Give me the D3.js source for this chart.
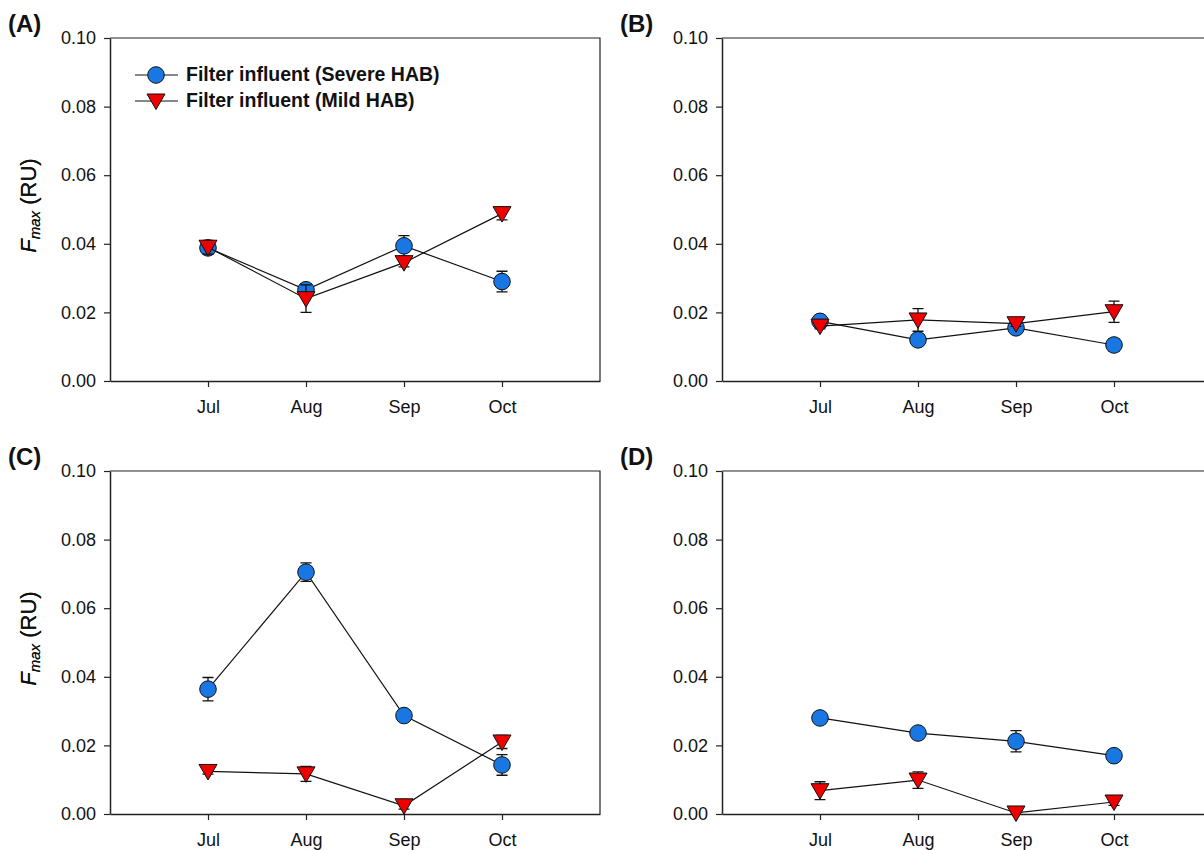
<!DOCTYPE html>
<html>
<head>
<meta charset="utf-8">
<script src="https://cdn.jsdelivr.net/npm/d3@7.9.0/dist/d3.min.js"></script>
<style>
  body { margin: 0; background: #fff; }
  svg { display: block; font-family: Arial, "Liberation Sans", sans-serif; }
</style>
</head>
<body>
<svg id="chart" width="1204" height="850"></svg>
<script>
// Categories and ticks
const months = ["Jul", "Aug", "Sep", "Oct"];
const yTicks = [0, 0.02, 0.04, 0.06, 0.08, 0.10];
const seriesNames = ["Filter influent (Severe HAB)", "Filter influent (Mild HAB)"];
const panelLabels = ["(A)", "(B)", "(C)", "(D)"];

// Panel A
const severeA = [0.0388, 0.0266, 0.0394, 0.0290];
const severeErrA = [0.0012, 0.0018, 0.0030, 0.0030];
const mildA = [0.0390, 0.0240, 0.0345, 0.0488];
const mildErrA = [0.0020, 0.0040, 0.0012, 0.0018];

// Panel B
const severeB = [0.0174, 0.0120, 0.0155, 0.0105];
const severeErrB = [0.0008, 0.0008, 0.0010, 0.0018];
const mildB = [0.0160, 0.0178, 0.0167, 0.0202];
const mildErrB = [0.0008, 0.0033, 0.0008, 0.0031];

// Panel C
const severeC = [0.0364, 0.0705, 0.0287, 0.0143];
const severeErrC = [0.0034, 0.0027, 0.0012, 0.0030];
const mildC = [0.0124, 0.0117, 0.0024, 0.0210];
const mildErrC = [0.0008, 0.0022, 0.0010, 0.0019];

// Panel D
const severeD = [0.0280, 0.0236, 0.0212, 0.0170];
const severeErrD = [0.0012, 0.0012, 0.0031, 0.0010];
const mildD = [0.0068, 0.0099, 0.0003, 0.0035];
const mildErrD = [0.0026, 0.0024, 0.0004, 0.0010];

const panels = [
    { label: panelLabels[0], severe: severeA, severeErr: severeErrA, mild: mildA, mildErr: mildErrA, left: 110, top: 38, legend: true },
    { label: panelLabels[1], severe: severeB, severeErr: severeErrB, mild: mildB, mildErr: mildErrB, left: 722, top: 38 },
    { label: panelLabels[2], severe: severeC, severeErr: severeErrC, mild: mildC, mildErr: mildErrC, left: 110, top: 471 },
    { label: panelLabels[3], severe: severeD, severeErr: severeErrD, mild: mildD, mildErr: mildErrD, left: 722, top: 471 }
];

const width = 490;
const height = 343;
const blue = "#1877E3";
const red = "#EE0000";
const svg = d3.select("#chart");

// down-pointing triangle, data point a bit above the box centre
const triPath = "M-9,-7L9,-7L0,8.5Z";

function drawMarker(g, kind, x, y) {
    if (kind === "severe") {
        g.append("circle")
            .attr("cx", x).attr("cy", y).attr("r", 8.3)
            .attr("fill", blue).attr("stroke", "#111").attr("stroke-width", 1);
    } else {
        g.append("path")
            .attr("d", triPath)
            .attr("transform", `translate(${x},${y})`)
            .attr("fill", red).attr("stroke", "#111").attr("stroke-width", 1);
    }
}

panels.forEach(p => {
    const g = svg.append("g").attr("transform", `translate(${p.left},${p.top})`);

    const x = d3.scaleLinear().domain([0, months.length + 1]).range([0, width]);
    const y = d3.scaleLinear().domain([0, 0.10]).range([height, 0]);

    // frame (top and right)
    g.append("path")
        .attr("d", `M0,0H${width}V${height}`)
        .attr("fill", "none").attr("stroke", "#222").attr("stroke-width", 1.2);

    // axes
    const yAxis = d3.axisLeft(y).tickValues(yTicks).tickFormat(d3.format(".2f"))
        .tickSize(6).tickSizeOuter(0).tickPadding(8);
    const xAxis = d3.axisBottom(x).tickValues(months.map((m, i) => i + 1))
        .tickFormat(i => months[i - 1]).tickSize(6).tickSizeOuter(0).tickPadding(13);

    const ya = g.append("g").call(yAxis);
    const xa = g.append("g").attr("transform", `translate(0,${height})`).call(xAxis);
    [ya, xa].forEach(a => {
        a.select(".domain").attr("stroke", "#222").attr("stroke-width", 1.5);
        a.selectAll(".tick line").attr("stroke", "#222").attr("stroke-width", 1.2);
        a.selectAll(".tick text").attr("fill", "#111").style("font-size", "18px")
            .style("font-family", "Arial, 'Liberation Sans', sans-serif");
    });

    // y title
    const yt = g.append("text")
        .attr("transform", `translate(${30 - p.left},${height / 2 - 4}) rotate(-90)`)
        .attr("text-anchor", "middle")
        .attr("dominant-baseline", "middle")
        .style("font-size", "22px").attr("fill", "#111");
    yt.append("tspan").style("font-style", "italic").text("F");
    yt.append("tspan").style("font-style", "italic").style("font-size", "15px").attr("dy", 6).text("max");
    yt.append("tspan").attr("dy", -6).text(" (RU)");

    // panel label
    svg.append("text")
        .attr("x", p.left - 102).attr("y", p.top - 6)
        .style("font-size", "24px").style("font-weight", "bold").attr("fill", "#111")
        .text(p.label);

    const line = d3.line().x((d, i) => x(i + 1)).y(d => y(d));

    [["severe", p.severe, p.severeErr], ["mild", p.mild, p.mildErr]].forEach(([kind, vals, errs]) => {
        const sg = g.append("g");
        sg.append("path").attr("d", line(vals))
            .attr("fill", "none").attr("stroke", "#111").attr("stroke-width", 1.2);
        vals.forEach((v, i) => {
            const cx = x(i + 1);
            const y1 = y(v + errs[i]);
            const y0 = y(v - errs[i]);
            sg.append("path")
                .attr("d", `M${cx},${y0}V${y1}M${cx - 5.5},${y1}H${cx + 5.5}M${cx - 5.5},${y0}H${cx + 5.5}`)
                .attr("stroke", "#111").attr("stroke-width", 1.3).attr("fill", "none");
        });
        vals.forEach((v, i) => drawMarker(sg, kind, x(i + 1), y(v)));
    });

    if (p.legend) {
        const lg = svg.append("g");
        ["severe", "mild"].forEach((kind, i) => {
            const ly = 75 + i * 26;
            lg.append("line").attr("x1", 135).attr("x2", 178).attr("y1", ly).attr("y2", ly)
                .attr("stroke", "#111").attr("stroke-width", 1.2);
            drawMarker(lg, kind, 156, ly);
            lg.append("text").attr("x", 186).attr("y", ly + 1)
                .attr("dominant-baseline", "middle")
                .style("font-size", "19.5px").style("font-weight", "bold").attr("fill", "#111")
                .text(seriesNames[i]);
        });
    }
});
</script>
</body>
</html>
